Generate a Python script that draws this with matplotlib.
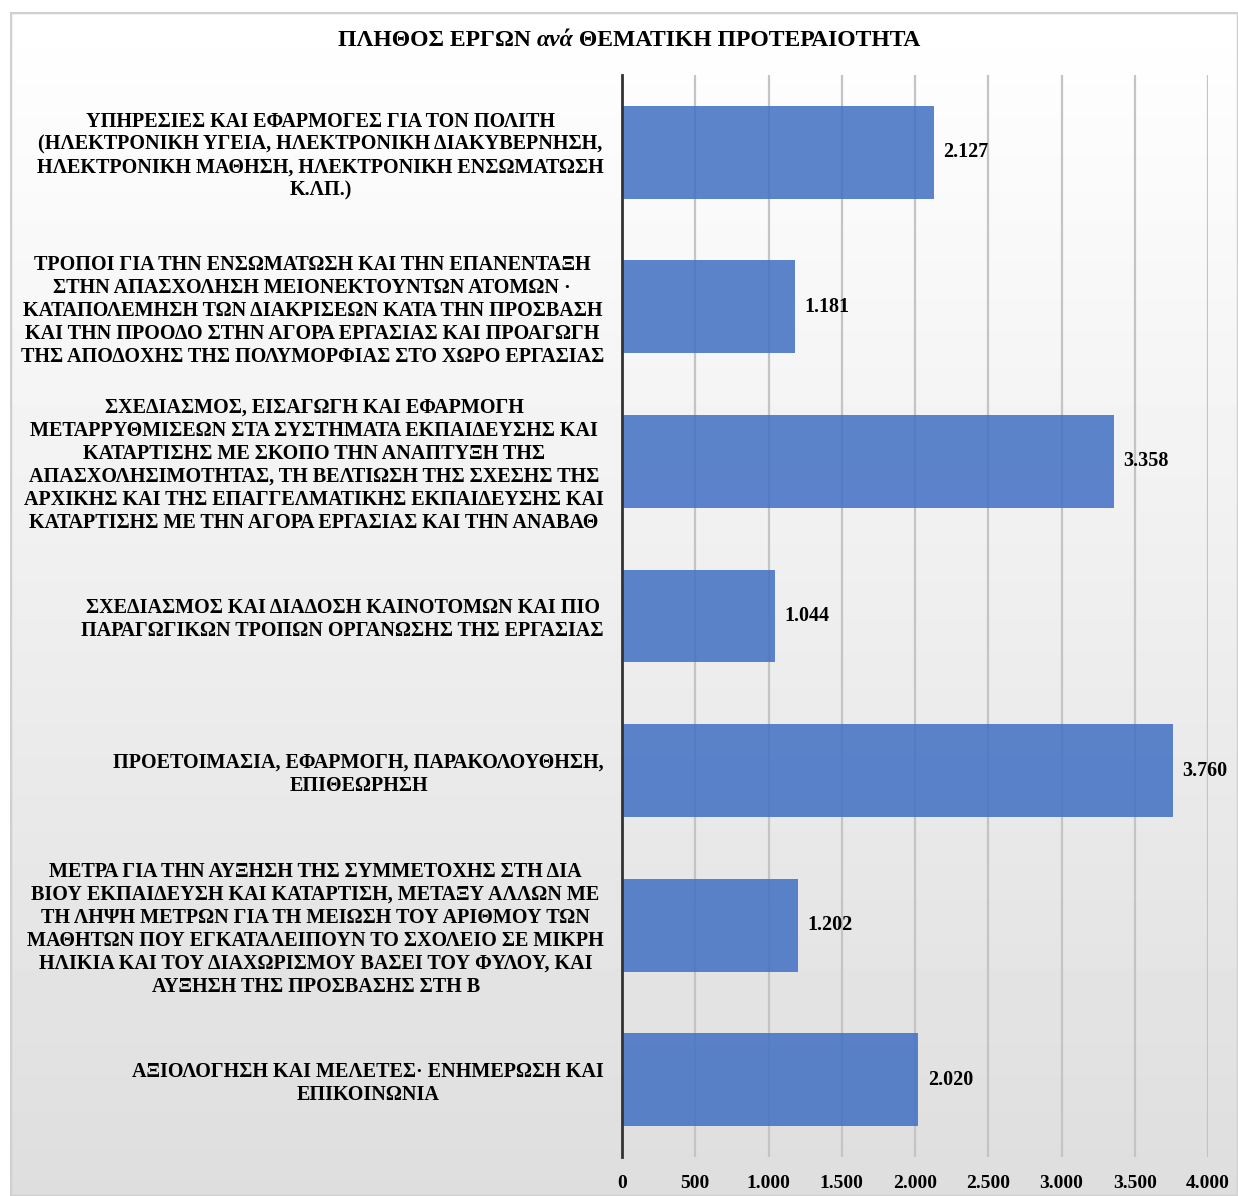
import numpy as np
import matplotlib
matplotlib.use("Agg")
import matplotlib.pyplot as plt
from matplotlib.patches import Rectangle

plt.rcParams['font.family'] = ['Liberation Serif', 'DejaVu Serif']

# data (top to bottom as in the chart)
categories = [
    "ΥΠΗΡΕΣΙΕΣ ΚΑΙ ΕΦΑΡΜΟΓΕΣ ΓΙΑ ΤΟΝ ΠΟΛΙΤΗ\n(ΗΛΕΚΤΡΟΝΙΚΗ ΥΓΕΙΑ, ΗΛΕΚΤΡΟΝΙΚΗ ΔΙΑΚΥΒΕΡΝΗΣΗ,\nΗΛΕΚΤΡΟΝΙΚΗ ΜΑΘΗΣΗ, ΗΛΕΚΤΡΟΝΙΚΗ ΕΝΣΩΜΑΤΩΣΗ\nΚ.ΛΠ.)",
    "ΤΡΟΠΟΙ ΓΙΑ ΤΗΝ ΕΝΣΩΜΑΤΩΣΗ ΚΑΙ ΤΗΝ ΕΠΑΝΕΝΤΑΞΗ\nΣΤΗΝ ΑΠΑΣΧΟΛΗΣΗ ΜΕΙΟΝΕΚΤΟΥΝΤΩΝ ΑΤΟΜΩΝ ·\nΚΑΤΑΠΟΛΕΜΗΣΗ ΤΩΝ ΔΙΑΚΡΙΣΕΩΝ ΚΑΤΑ ΤΗΝ ΠΡΟΣΒΑΣΗ\nΚΑΙ ΤΗΝ ΠΡΟΟΔΟ ΣΤΗΝ ΑΓΟΡΑ ΕΡΓΑΣΙΑΣ ΚΑΙ ΠΡΟΑΓΩΓΗ\nΤΗΣ ΑΠΟΔΟΧΗΣ ΤΗΣ ΠΟΛΥΜΟΡΦΙΑΣ ΣΤΟ ΧΩΡΟ ΕΡΓΑΣΙΑΣ",
    "ΣΧΕΔΙΑΣΜΟΣ, ΕΙΣΑΓΩΓΗ ΚΑΙ ΕΦΑΡΜΟΓΗ\nΜΕΤΑΡΡΥΘΜΙΣΕΩΝ ΣΤΑ ΣΥΣΤΗΜΑΤΑ ΕΚΠΑΙΔΕΥΣΗΣ ΚΑΙ\nΚΑΤΑΡΤΙΣΗΣ ΜΕ ΣΚΟΠΟ ΤΗΝ ΑΝΑΠΤΥΞΗ ΤΗΣ\nΑΠΑΣΧΟΛΗΣΙΜΟΤΗΤΑΣ, ΤΗ ΒΕΛΤΙΩΣΗ ΤΗΣ ΣΧΕΣΗΣ ΤΗΣ\nΑΡΧΙΚΗΣ ΚΑΙ ΤΗΣ ΕΠΑΓΓΕΛΜΑΤΙΚΗΣ ΕΚΠΑΙΔΕΥΣΗΣ ΚΑΙ\nΚΑΤΑΡΤΙΣΗΣ ΜΕ ΤΗΝ ΑΓΟΡΑ ΕΡΓΑΣΙΑΣ ΚΑΙ ΤΗΝ ΑΝΑΒΑΘ",
    "ΣΧΕΔΙΑΣΜΟΣ ΚΑΙ ΔΙΑΔΟΣΗ ΚΑΙΝΟΤΟΜΩΝ ΚΑΙ ΠΙΟ\nΠΑΡΑΓΩΓΙΚΩΝ ΤΡΟΠΩΝ ΟΡΓΑΝΩΣΗΣ ΤΗΣ ΕΡΓΑΣΙΑΣ",
    "ΠΡΟΕΤΟΙΜΑΣΙΑ, ΕΦΑΡΜΟΓΗ, ΠΑΡΑΚΟΛΟΥΘΗΣΗ,\nΕΠΙΘΕΩΡΗΣΗ",
    "ΜΕΤΡΑ ΓΙΑ ΤΗΝ ΑΥΞΗΣΗ ΤΗΣ ΣΥΜΜΕΤΟΧΗΣ ΣΤΗ ΔΙΑ\nΒΙΟΥ ΕΚΠΑΙΔΕΥΣΗ ΚΑΙ ΚΑΤΑΡΤΙΣΗ, ΜΕΤΑΞΥ ΑΛΛΩΝ ΜΕ\nΤΗ ΛΗΨΗ ΜΕΤΡΩΝ ΓΙΑ ΤΗ ΜΕΙΩΣΗ ΤΟΥ ΑΡΙΘΜΟΥ ΤΩΝ\nΜΑΘΗΤΩΝ ΠΟΥ ΕΓΚΑΤΑΛΕΙΠΟΥΝ ΤΟ ΣΧΟΛΕΙΟ ΣΕ ΜΙΚΡΗ\nΗΛΙΚΙΑ ΚΑΙ ΤΟΥ ΔΙΑΧΩΡΙΣΜΟΥ ΒΑΣΕΙ ΤΟΥ ΦΥΛΟΥ, ΚΑΙ\nΑΥΞΗΣΗ ΤΗΣ ΠΡΟΣΒΑΣΗΣ ΣΤΗ Β",
    "ΑΞΙΟΛΟΓΗΣΗ ΚΑΙ ΜΕΛΕΤΕΣ· ΕΝΗΜΕΡΩΣΗ ΚΑΙ\nΕΠΙΚΟΙΝΩΝΙΑ",
]
values = [2127, 1181, 3358, 1044, 3760, 1202, 2020]
xticks = [0, 500, 1000, 1500, 2000, 2500, 3000, 3500, 4000]


def greek_fmt(v):
    return f"{int(v):,}".replace(",", ".")


W, H = 1238, 1196
fig = plt.figure(figsize=(W / 100, H / 100), dpi=100)

# chart area background with soft gradient and light border
bg = fig.add_axes([10 / W, 0, 1 - 10 / W, 1 - 12 / H])
grad = np.linspace(1.0, 0.87, 256).reshape(-1, 1)
bg.imshow(grad, aspect='auto', cmap='gray', vmin=0, vmax=1,
          extent=[0, 1, 0, 1], origin='upper')
bg.set_xlim(0, 1)
bg.set_ylim(0, 1)
bg.axis('off')
bg.add_patch(Rectangle((0, 0), 1, 1, transform=bg.transAxes, fill=False,
                       edgecolor='#d0d0d0', linewidth=2.5))

ax = fig.add_axes([622 / W, 1 - 1157 / H, 586 / W, (1157 - 75) / H])
ax.patch.set_alpha(0)

y = np.arange(len(values))
bars = ax.barh(y, values, height=0.6, color='#4472C4', alpha=0.87, zorder=2)
ax.set_ylim(len(values) - 0.5, -0.5)
ax.set_xlim(0, 4000)
ax.set_xticks(xticks)
ax.set_xticklabels([greek_fmt(v) for v in xticks], fontsize=14, fontweight='bold')
ax.set_yticks(y)
ax.set_yticklabels(categories, fontsize=14.5, fontweight='bold',
                   multialignment='center', linespacing=1.2)
ax.tick_params(axis='x', length=0, pad=13)
ax.tick_params(axis='y', length=0, pad=13)
ax.grid(axis='x', color='#c4c4c4', linewidth=1.6, zorder=0)
ax.set_axisbelow(True)
for s in ['top', 'right', 'bottom']:
    ax.spines[s].set_visible(False)
ax.spines['left'].set_color('#333333')
ax.spines['left'].set_linewidth(2)
ax.spines['left'].set_zorder(3)

for b, v in zip(bars, values):
    ax.annotate(greek_fmt(v), (v, b.get_y() + b.get_height() / 2),
                xytext=(7, 0), textcoords='offset points',
                va='center', ha='left', fontsize=14.5, fontweight='bold')

# title with italic middle word
parts = [("ΠΛΗΘΟΣ ΕΡΓΩΝ ", 'normal'), ("ανά", 'italic'),
         (" ΘΕΜΑΤΙΚΗ ΠΡΟΤΕΡΑΙΟΤΗΤΑ", 'normal')]
ty = 1 - 41 / H
texts = []
for txt, style in parts:
    texts.append(fig.text(0, ty, txt, fontsize=17, fontweight='bold',
                          fontstyle=style, va='center', ha='left'))
fig.canvas.draw()
r = fig.canvas.get_renderer()
widths = [t.get_window_extent(r).width for t in texts]
x0 = 629 - sum(widths) / 2
for t, w in zip(texts, widths):
    t.set_x(x0 / W)
    x0 += w

fig.savefig("out.png", dpi=100)
